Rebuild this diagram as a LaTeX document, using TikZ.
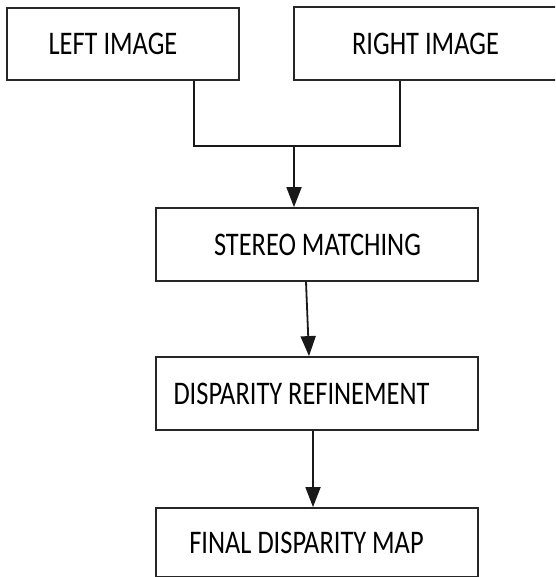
\documentclass[tikz,border=0pt]{standalone}
\usepackage{fontspec}
\usepackage{graphicx}
\setmainfont{Carlito}
\usetikzlibrary{arrows.meta}
\newcommand{\boxtext}[1]{\scalebox{0.8}[1]{\fontsize{33}{40}\selectfont #1}}
\begin{document}
\begin{tikzpicture}[x=1pt,y=-1pt,
  blk/.style={draw=black!85, line width=1.8pt, rectangle, inner sep=0pt},
  con/.style={draw=black!90, line width=1.8pt},
  arr/.style={con, -{Triangle[length=20pt,width=15pt]}}]
\clip (0,0) rectangle (555,577);
\fill[white] (0,0) rectangle (555,577);
\node[blk, minimum width=232pt, minimum height=72pt,
  label={[xshift=-10pt]center:\boxtext{LEFT IMAGE}}] (left) at (123,44) {};
\node[blk, minimum width=276pt, minimum height=73pt,
  label={[xshift=-6.5pt]center:\boxtext{RIGHT IMAGE}}] (right) at (432,43.5) {};
\node[blk, minimum width=322pt, minimum height=73pt,
  label={[xshift=0.5pt]center:\boxtext{STEREO MATCHING}}] (stereo) at (317,244.5) {};
\node[blk, minimum width=322pt, minimum height=73pt,
  label={[xshift=-15.5pt]center:\boxtext{DISPARITY REFINEMENT}}] (disp) at (317,393.5) {};
\node[blk, minimum width=322pt, minimum height=69pt,
  label={[xshift=-10.5pt]center:\boxtext{FINAL DISPARITY MAP}}] (final) at (317,542.5) {};
\coordinate (lj) at (194,146);
\coordinate (rj) at (400,146);
\coordinate (j) at (294,146);
\draw[con] ([xshift=71pt]left.south) -- (lj) -- (rj) -- ([xshift=-32pt]right.south);
\draw[arr] (j) -- (j |- stereo.north);
\draw[arr] ([xshift=-11pt]stereo.south) -- ([xshift=-8pt]disp.north);
\draw[arr] ([xshift=-4pt]disp.south) -- ([xshift=-4pt]final.north);
\end{tikzpicture}
\end{document}
